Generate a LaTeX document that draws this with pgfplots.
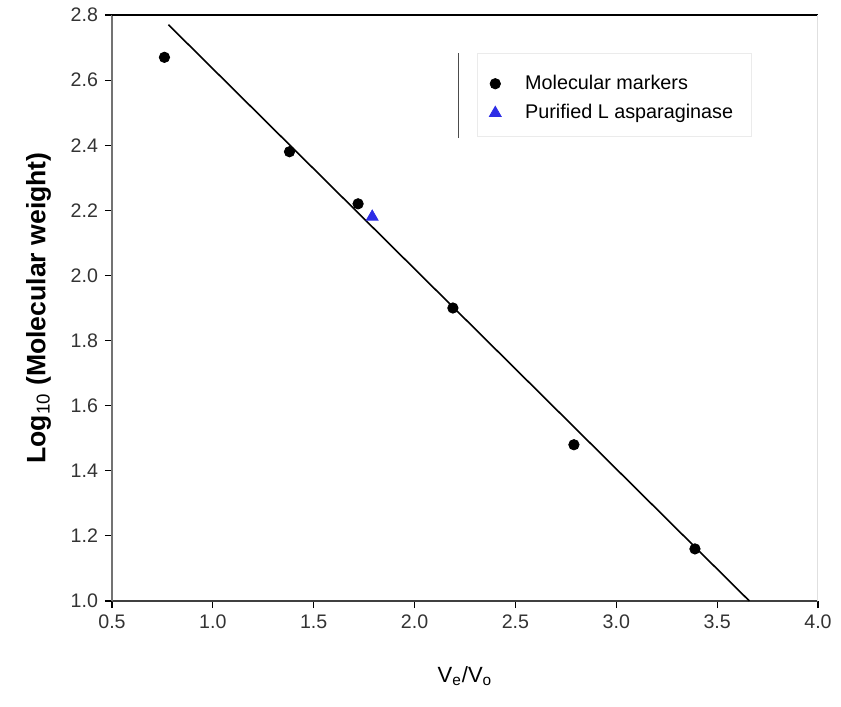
\documentclass[border=0pt]{standalone}
\usepackage{pgfplots}
\pgfplotsset{compat=1.18}
\usepackage{fontspec}
\setmainfont{Liberation Sans}
\definecolor{markblue}{RGB}{45,45,230}
\begin{document}
\begin{tikzpicture}
\begin{axis}[
    scale only axis,
    width=353pt, height=293pt,
    xmin=0.5, xmax=4.0,
    ymin=1.0, ymax=2.8,
    xtick={0.5,1.0,...,4.0},
    ytick={1.0,1.2,...,2.8},
    xtick pos=bottom, ytick pos=left,
    tick align=outside,
    major tick length=3.5pt,
    tick style={black, line width=0.6pt},
    axis line style={draw=none},
    ticklabel style={font=\fontsize{9.8}{11}\selectfont, text=black!80},
    /pgf/number format/.cd, fixed, fixed zerofill, precision=1, assume math mode=true,
    /pgfplots/.cd,
    xlabel={V\textsubscript{e}/V\textsubscript{o}},
    xlabel style={font=\fontsize{11}{13}\selectfont, yshift=-12pt},
    ylabel={\textbf{Log}\textsubscript{10}\textbf{ (Molecular weight)}},
    ylabel style={font=\fontsize{13.3}{15}\selectfont, yshift=3pt},
    clip=false,
    legend style={draw=none, fill=none, at={(rel axis cs:0.534,0.905)}, anchor=north west,
        font=\fontsize{9.9}{11}\selectfont, row sep=2pt, inner sep=0pt},
    legend cell align=left,
]
% frame
\draw[black!75, line width=1pt] (rel axis cs:0,0) -- (rel axis cs:1,0);
\draw[black!55, line width=0.8pt] (rel axis cs:0,0) -- (rel axis cs:0,1);
\draw[black, line width=0.6pt] (rel axis cs:0,1) -- (rel axis cs:1,1);
\draw[black!12, line width=0.5pt] (rel axis cs:1,0) -- (rel axis cs:1,1);
% legend decoration
\draw[black!8] (rel axis cs:0.518,0.792) rectangle (rel axis cs:0.906,0.935);
\draw[black!70, line width=0.8pt] (rel axis cs:0.491,0.790) -- (rel axis cs:0.491,0.935);

\addplot[only marks, mark=*, mark size=2.6pt, black] coordinates {
    (0.76,2.67) (1.38,2.38) (1.72,2.22) (2.19,1.90) (2.79,1.48) (3.39,1.16)
};
\addlegendentry{\hspace{10pt}Molecular markers}
\addplot[only marks, mark=triangle*, mark size=3.4pt, markblue] coordinates {
    (1.79,2.18)
};
\addlegendentry{\hspace{10pt}Purified L asparaginase}
\addplot[black, line width=0.8pt, forget plot] coordinates {
    (0.78,2.77) (3.66,1.00)
};
\end{axis}
\path ([shift={(-56pt,-53pt)}]current axis.south west) rectangle ([shift={(11.5pt,7.5pt)}]current axis.north east);
\end{tikzpicture}
\end{document}
